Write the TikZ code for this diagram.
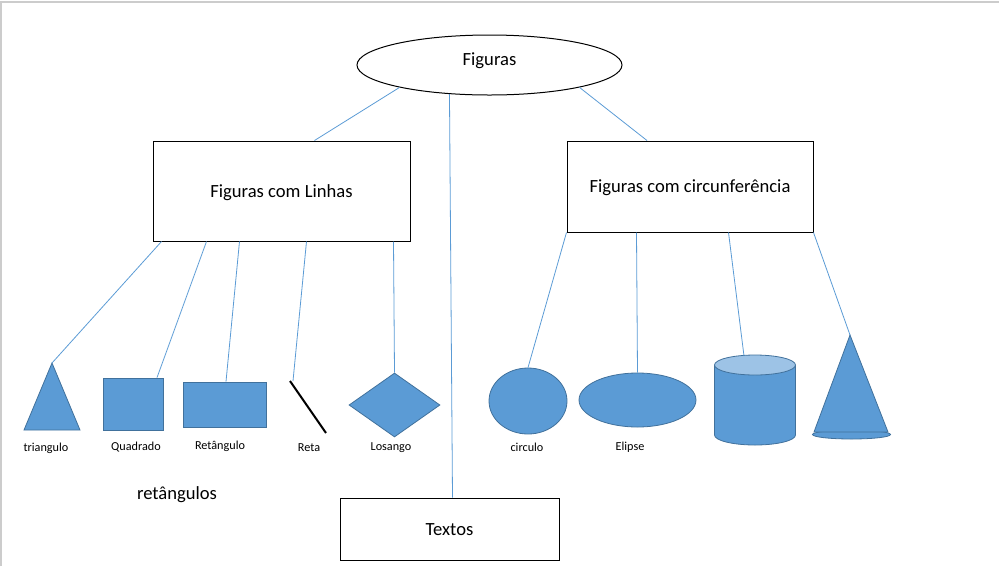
\documentclass[tikz,border=0pt]{standalone}
\usepackage{fontspec}
\setmainfont{Carlito}
\usetikzlibrary{shapes.geometric}
\definecolor{shapeBlue}{HTML}{5B9BD5}
\definecolor{shapeEdge}{HTML}{41719C}
\definecolor{shapeLight}{HTML}{9DC3E6}

\begin{document}
\begin{tikzpicture}
[x=1pt,y=-1pt,
  lineDecorate/.style={-,shapeBlue,line width=0.8pt},%
  boxDecorate/.style={draw=black,line width=1pt,inner sep=0pt,text height=15.5pt,text depth=3pt,font=\fontsize{18.6}{22}\selectfont},%
  shapeDecorate/.style={fill=shapeBlue,draw=shapeEdge,line width=0.8pt,inner sep=0pt},%
  labelDecorate/.style={inner sep=0pt,font=\fontsize{12.2}{14}\selectfont}]
\useasboundingbox (0,0) rectangle (999,566);
\draw[black!20,line width=1.5pt] (0.75,566) -- (0.75,2) -- (999,2);
%% main boxes
\node (fig) at (489.5,65) [boxDecorate,ellipse,minimum width=265,minimum height=60] {};
\node (figtext) at (489.5,61) [inner sep=0pt,font=\fontsize{18.6}{22}\selectfont] {Figuras};
\node (lin) at (281.5,191) [boxDecorate,minimum width=257,minimum height=100] {Figuras com Linhas};
\node (circf) at (690,186.5) [boxDecorate,minimum width=246,minimum height=91] {Figuras com circunfer\^encia};
\node (txt) at (449.5,529) [boxDecorate,minimum width=219,minimum height=62] {Textos};
%% shapes with lines
\draw[shapeDecorate] (52,363) coordinate (tri) -- (80,430) -- (24,430) -- cycle;
\node (sq) at (133,404) [shapeDecorate,minimum width=60,minimum height=52] {};
\node (rect) at (224.5,404.5) [shapeDecorate,minimum width=83,minimum height=45] {};
\draw[black,line width=2pt] (290,381) coordinate (reta) -- (326,433);
\node (dia) at (394.5,405) [shapeDecorate,diamond,minimum width=91,minimum height=64] {};
%% shapes with curves
\node (circ) at (528,401) [shapeDecorate,ellipse,minimum width=78,minimum height=66] {};
\node (elip) at (637.5,400) [shapeDecorate,ellipse,minimum width=117,minimum height=54] {};
\draw[shapeDecorate] (714.5,365) -- (714.5,435) arc[start angle=180,end angle=0,x radius=40.5,y radius=10] -- (795.5,365);
\draw[shapeDecorate,fill=shapeLight] (755,365) ellipse[x radius=40.5,y radius=10];
\coordinate (cyl) at (744,356);
\draw[shapeDecorate] (851.5,434.5) ellipse[x radius=39,y radius=4.5];
\draw[shapeDecorate] (850,335) coordinate (cone) -- (888,432) -- (814,432) -- cycle;
%% labels
\foreach \nodename/\x/\y/\txt in {
  ltri/46/448/triangulo, lsq/136/447/Quadrado, lrect/220/446/Ret\^angulo,
  lreta/309/448/Reta, ldia/391/448/Losango, lcirc/527/447/circulo, lelip/630/447/Elipse}
{
  \node (\nodename) at (\x,\y) [labelDecorate] {\txt};
}
\node (lret) at (177,495) [inner sep=0pt,font=\fontsize{18.6}{22}\selectfont] {ret\^angulos};
%% edges or lines
\draw[lineDecorate] (fig.194) -- ([xshift=33pt]lin.north);
\draw[lineDecorate] (fig.346) -- ([xshift=-43pt]circf.north);
\draw[lineDecorate] (fig.216) -- ([xshift=3pt]txt.north);
\draw[lineDecorate] ([xshift=9pt]lin.south west) -- (tri);
\draw[lineDecorate] ([xshift=54pt]lin.south west) -- ([xshift=24pt]sq.north);
\draw[lineDecorate] ([xshift=87pt]lin.south west) -- ([xshift=1.5pt]rect.north);
\draw[lineDecorate] ([xshift=154pt]lin.south west) -- ([xshift=3pt]reta);
\draw[lineDecorate] ([xshift=241pt]lin.south west) -- (dia.north);
\draw[lineDecorate] (circf.south west) -- (circ.north);
\draw[lineDecorate] ([xshift=70pt]circf.south west) -- (elip.north);
\draw[lineDecorate] ([xshift=162pt]circf.south west) -- (cyl);
\draw[lineDecorate] (circf.south east) -- (cone);
\end{tikzpicture}
\end{document}
